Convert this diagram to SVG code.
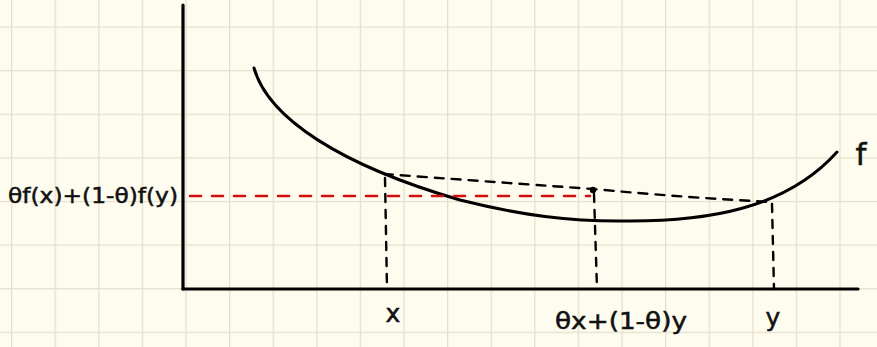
<svg xmlns="http://www.w3.org/2000/svg" width="877" height="347" viewBox="0 0 877 347">
<defs>
<pattern id="grid" x="11" y="26.5" width="43.6" height="43.6" patternUnits="userSpaceOnUse">
<path d="M0.6,0 V43.6 M0,0.6 H43.6" fill="none" stroke="#e4e0cd" stroke-width="1.4"/>
</pattern>
</defs>
<style>
.axis{stroke:#000;stroke-width:3.2;fill:none;stroke-linecap:round}
.curve{stroke:#000;stroke-width:3;fill:none;stroke-linecap:round}
.dash{stroke:#000;stroke-width:2.4;fill:none;stroke-dasharray:9 8;stroke-linecap:round}
.vdash{stroke:#000;stroke-width:2.4;fill:none;stroke-dasharray:8 8;stroke-linecap:round}
.red{stroke:#d20f0f;stroke-width:2.6;fill:none;stroke-dasharray:11 11;stroke-linecap:round}
.lbl{font-family:"DejaVu Sans","Liberation Sans",sans-serif;fill:#111;stroke:#111;stroke-width:0.5}
</style>
<rect width="877" height="347" fill="#fefcef"/>
<rect width="877" height="347" fill="url(#grid)"/>
<g id="axes">
<path class="axis" d="M183,5 V289"/>
<path class="axis" d="M183,289 H858"/>
</g>
<g id="curve-f">
<path class="curve" d="M254,68 C268,118 340,165 460,200 C520,215 570,222 630,221 C705,221 785,210 837,152"/>
</g>
<g id="connectors">
<path class="dash" d="M384,174 Q480,181 593,189 Q690,198 772,202"/>
<circle cx="593" cy="190" r="3.2" fill="#000"/>
<path class="red" d="M190,196 H590"/>
<path class="vdash" d="M385,178 L387,289"/>
<path class="vdash" d="M594,194 L597,289"/>
<path class="vdash" d="M772,204 L774,289"/>
</g>
<g id="labels">
<text class="lbl" x="8" y="203" font-size="21" textLength="170" lengthAdjust="spacingAndGlyphs">θf(x)+(1-θ)f(y)</text>
<text class="lbl" x="393" y="322" font-size="25" text-anchor="middle">x</text>
<text class="lbl" x="555" y="329" font-size="23" textLength="132" lengthAdjust="spacingAndGlyphs">θx+(1-θ)y</text>
<text class="lbl" x="773" y="326" font-size="25" text-anchor="middle">y</text>
<text class="lbl" x="861" y="165" font-size="31" text-anchor="middle">f</text>
</g>
</svg>
